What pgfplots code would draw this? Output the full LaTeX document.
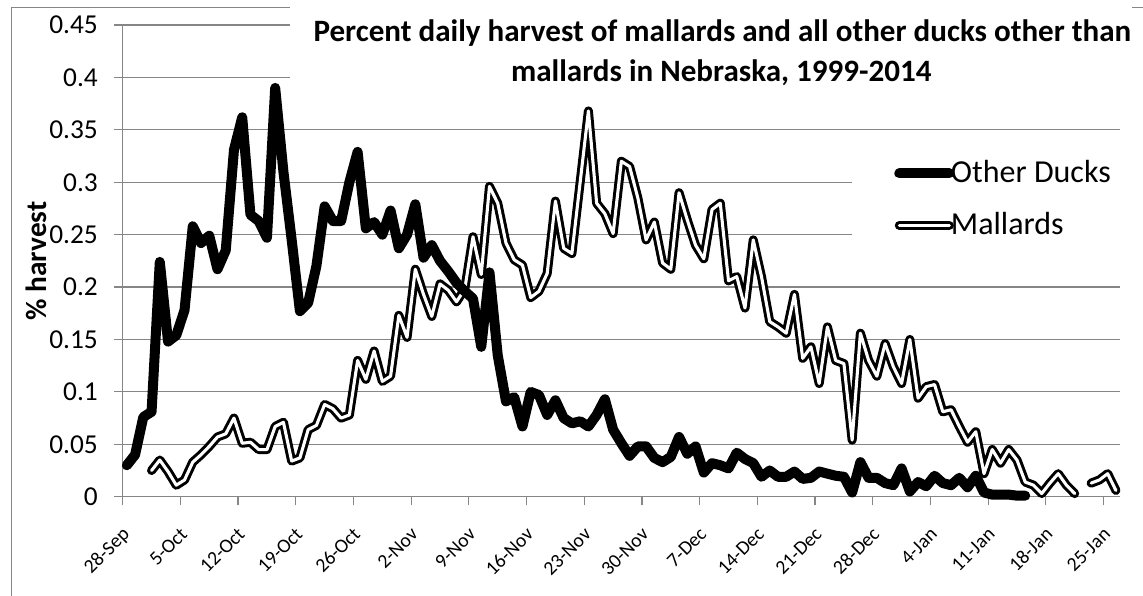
\documentclass[border=0pt]{standalone}
\usepackage{fontspec}
\setmainfont{Carlito}
\usepackage{pgfplots}
\usepackage{pgfplotstable}
\pgfplotsset{compat=1.18}
\definecolor{gridgray}{RGB}{134,134,134}

\pgfplotstableread{
d v
0 0.030
1 0.040
2 0.076
3 0.081
4 0.224
5 0.148
6 0.154
7 0.178
8 0.258
9 0.242
10 0.249
11 0.217
12 0.235
13 0.331
14 0.362
15 0.269
16 0.263
17 0.247
18 0.390
19 0.310
20 0.245
21 0.177
22 0.185
23 0.220
24 0.277
25 0.263
26 0.263
27 0.300
28 0.329
29 0.256
30 0.262
31 0.250
32 0.273
33 0.237
34 0.250
35 0.279
36 0.228
37 0.240
38 0.225
39 0.215
40 0.204
41 0.196
42 0.189
43 0.143
44 0.214
45 0.135
46 0.091
47 0.095
48 0.067
49 0.100
50 0.097
51 0.078
52 0.092
53 0.075
54 0.070
55 0.072
56 0.067
57 0.078
58 0.093
59 0.064
60 0.051
61 0.039
62 0.048
63 0.048
64 0.037
65 0.033
66 0.038
67 0.057
68 0.041
69 0.048
70 0.023
71 0.032
72 0.030
73 0.027
74 0.042
75 0.036
76 0.032
77 0.019
78 0.025
79 0.019
80 0.019
81 0.024
82 0.017
83 0.018
84 0.024
85 0.022
86 0.020
87 0.019
88 0.004
89 0.033
90 0.018
91 0.018
92 0.013
93 0.011
94 0.027
95 0.005
96 0.014
97 0.010
98 0.020
99 0.013
100 0.011
101 0.018
102 0.009
103 0.020
104 0.004
105 0.002
106 0.002
107 0.002
108 0.001
109 0.001
}\otherducks

\pgfplotstableread{
d v
3 0.025
4 0.035
5 0.024
6 0.011
7 0.016
8 0.033
9 0.040
10 0.048
11 0.057
12 0.060
13 0.075
14 0.051
15 0.052
16 0.045
17 0.045
18 0.067
19 0.071
20 0.034
21 0.037
22 0.064
23 0.068
24 0.088
25 0.084
26 0.075
27 0.078
28 0.130
29 0.112
30 0.139
31 0.110
32 0.115
33 0.173
34 0.152
35 0.217
36 0.193
37 0.172
38 0.203
39 0.197
40 0.186
41 0.198
42 0.248
43 0.212
44 0.296
45 0.280
46 0.242
47 0.226
48 0.221
49 0.190
50 0.196
51 0.213
52 0.282
53 0.237
54 0.232
55 0.300
56 0.368
57 0.280
58 0.270
59 0.251
60 0.320
61 0.315
62 0.285
63 0.245
64 0.262
65 0.223
66 0.217
67 0.290
68 0.264
69 0.240
70 0.227
71 0.274
72 0.280
73 0.206
74 0.210
75 0.180
76 0.245
77 0.210
78 0.167
79 0.162
80 0.156
81 0.193
82 0.132
83 0.143
84 0.108
85 0.162
86 0.130
87 0.127
88 0.054
89 0.156
90 0.130
91 0.115
92 0.146
93 0.124
94 0.108
95 0.150
96 0.094
97 0.105
98 0.107
99 0.081
100 0.083
101 0.067
102 0.052
103 0.062
104 0.022
105 0.045
106 0.032
107 0.045
108 0.035
109 0.014
110 0.011
111 0.003
112 0.013
113 0.022
114 0.011
115 0.003
116 nan
117 0.013
118 0.016
119 0.022
120 0.006
}\mallards

\tikzset{
  ducksline/.style={black, line width=7.5pt, line join=round, line cap=round},
  mallline/.style={black, line width=2.25pt, double=white, double distance=2.3pt, line join=round, line cap=round},
}

\begin{document}
\begin{tikzpicture}
\useasboundingbox (0,0) rectangle (857.25pt,-447pt);
\draw[gridgray, line width=0.75pt] (8.25pt,-450pt) -- (8.25pt,-5.25pt) -- (860pt,-5.25pt);
\begin{axis}[
  at={(92.03pt,-372.53pt)}, anchor=south west,
  scale only axis, width=747.98pt, height=353.78pt,
  xmin=-0.5, xmax=120.5, ymin=0, ymax=0.45,
  clip=false,
  axis x line*=bottom, axis y line*=left,
  axis line style={gridgray, line width=0.9pt, -},
  xtick={-0.5,6.5,13.5,20.5,27.5,34.5,41.5,48.5,55.5,62.5,69.5,76.5,83.5,90.5,97.5,104.5,111.5,118.5},
  xticklabels={28-Sep,5-Oct,12-Oct,19-Oct,26-Oct,2-Nov,9-Nov,16-Nov,23-Nov,30-Nov,7-Dec,14-Dec,21-Dec,28-Dec,4-Jan,11-Jan,18-Jan,25-Jan},
  ytick={0,0.05,0.1,0.15,0.2,0.25,0.3,0.35,0.4,0.45},
  yticklabels={0,0.05,0.1,0.15,0.2,0.25,0.3,0.35,0.4,0.45},
  ymajorgrids,
  major grid style={gridgray, line width=0.9pt},
  tick align=outside,
  major tick length=6.5pt,
  tick style={gridgray, line width=0.9pt},
  yticklabel style={font=\fontsize{20.5}{22}\selectfont, anchor=east, inner sep=0pt, xshift=-12pt},
  xticklabel style={font=\fontsize{14.8}{16}\selectfont, xshift=6pt, yshift=-22.5pt, rotate=45, anchor=base east, inner sep=0pt},
  legend style={at={(0.7734,0.7113)}, anchor=north west, draw=none, fill=none,
    font=\fontsize{24}{28}\selectfont, row sep=21pt, inner sep=0pt,
    nodes={inner sep=0pt, text height=16pt, text depth=2pt}},
  legend cell align=left,
  legend image code/.code={\draw[#1] (0pt,0pt) -- (37.5pt,0pt);},
]
\fill[white] (axis cs:19.8,0.383) rectangle (axis cs:122,0.47);
\fill[white] (axis cs:88,0.215) rectangle (axis cs:122,0.335);
\addlegendimage{ducksline}
\addlegendentry{\hspace{-2.5pt}Other Ducks}
\addlegendimage{mallline}
\addlegendentry{\hspace{-2.5pt}Mallards}
\addplot[mallline, unbounded coords=jump, forget plot] table[x=d, y=v] {\mallards};
\addplot[ducksline, forget plot] table[x=d, y=v] {\otherducks};
\end{axis}
\node[anchor=base, font=\fontsize{23.3}{27}\selectfont\bfseries] at (541.8pt,-31.3pt) {Percent daily harvest of mallards and all other ducks other than};
\node[anchor=base, font=\fontsize{23.3}{27}\selectfont\bfseries] at (541pt,-61.3pt) {mallards in Nebraska, 1999-2014};
\node[rotate=90, anchor=base, font=\fontsize{22}{26}\selectfont\bfseries] at (35pt,-195.75pt) {\% harvest};
\end{tikzpicture}
\end{document}
